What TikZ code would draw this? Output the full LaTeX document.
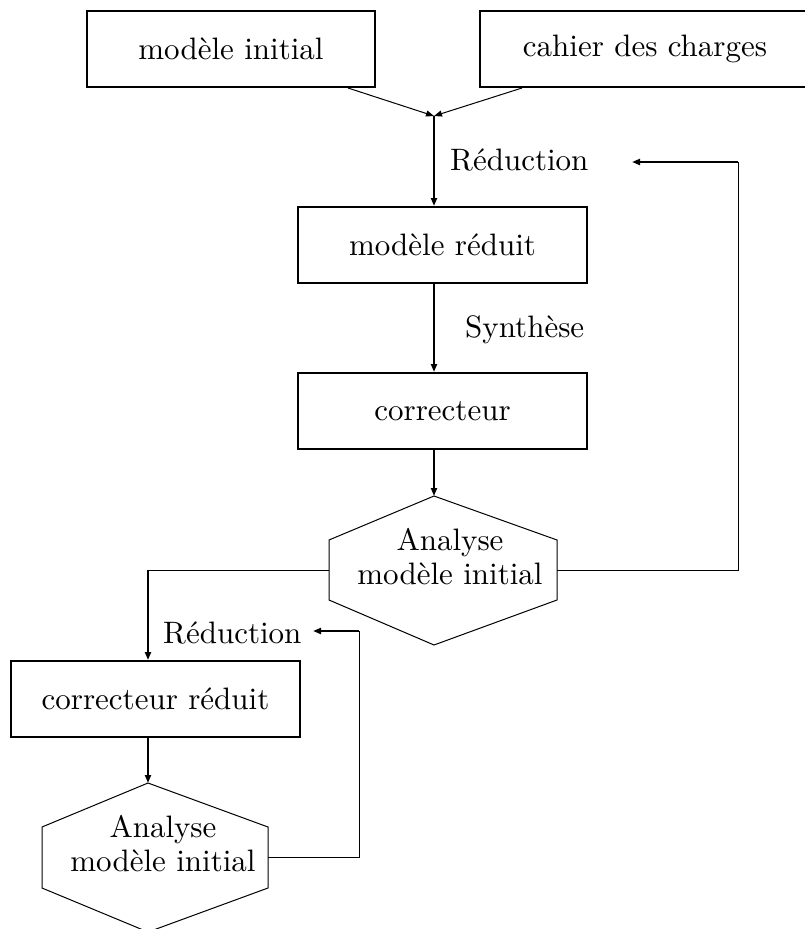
\documentclass[tikz,border=0pt]{standalone}
\usepackage{fontspec}
\setmainfont{lmroman10-regular.otf}
\usetikzlibrary{arrows.meta}

\tikzset{
  txt/.style={font=\fontsize{31}{34}\selectfont, inner sep=0pt},
  blockbox/.style={draw, line width=2pt, inner sep=0pt,
    font=\fontsize{31}{34}\selectfont},
  thinline/.style={line width=1pt},
  thickline/.style={line width=2pt},
  tip/.style={-{Triangle[length=8pt,width=6pt]}},
  hexline/.style={line width=1pt, line join=miter},
}

\begin{document}
\begin{tikzpicture}[x=1pt, y=-1pt]
  \useasboundingbox (0,0) rectangle (805,929);

  % input blocks
  \node[blockbox, minimum width=288pt, minimum height=76pt] (mi) at (231,49) {modèle initial};
  \node[blockbox, minimum width=330pt, minimum height=76pt] (cdc) at (645,49) {cahier des charges};

  % main chain
  \node[blockbox, minimum width=289pt, minimum height=76pt] (mr) at (442.5,245) {modèle réduit};
  \node[blockbox, minimum width=289pt, minimum height=76pt] (cor) at (442.5,411) {correcteur};
  \node[blockbox, minimum width=289pt, minimum height=76pt] (crr) at (155.5,699) {correcteur réduit};

  % first analysis hexagon
  \coordinate (h1t) at (434,496);
  \coordinate (h1nw) at (329,540);
  \coordinate (h1sw) at (329,600);
  \coordinate (h1b) at (434,645);
  \coordinate (h1se) at (557,600);
  \coordinate (h1ne) at (557,540);
  \coordinate (h1w) at (329,570);
  \coordinate (h1e) at (557,570);
  \draw[hexline] (h1t) -- (h1nw) -- (h1sw) -- (h1b) -- (h1se) -- (h1ne) -- cycle;
  \node[txt, anchor=base] (h1a) at (450,550) {Analyse};
  \node[txt, anchor=base] (h1m) at (450,584) {modèle initial};

  % second analysis hexagon
  \coordinate (h2t) at (148,783);
  \coordinate (h2nw) at (42,827);
  \coordinate (h2sw) at (42,888);
  \coordinate (h2b) at (148,932);
  \coordinate (h2se) at (268,888);
  \coordinate (h2ne) at (268,827);
  \coordinate (h2e) at (268,857);
  \draw[hexline] (h2t) -- (h2nw) -- (h2sw) -- (h2b) -- (h2se) -- (h2ne) -- cycle;
  \node[txt, anchor=base] (h2a) at (163,837) {Analyse};
  \node[txt, anchor=base] (h2m) at (163,871) {modèle initial};

  % edge labels
  \node[txt, anchor=base west] (red1) at (450,170) {Réduction};
  \node[txt, anchor=base west] (syn) at (465,337) {Synthèse};
  \node[txt, anchor=base west] (red2) at (163,643) {Réduction};

  % merging of the two inputs
  \coordinate (J) at (434,116);
  \draw[thinline, tip] ([xshift=-28pt]mi.south east) -- (J);
  \draw[thinline, tip] ([xshift=43pt]cdc.south west) -- (J);

  % downward flow
  \draw[thickline, tip] (J) -- (J |- mr.north);
  \draw[thickline, tip] (mr.south -| J) -- (cor.north -| J);
  \draw[thickline, tip] (cor.south -| J) -- (h1t);

  % loop back to the reduction step
  \coordinate (fb1) at (738,570);
  \coordinate (fb1top) at (738,162);
  \coordinate (fb1end) at (632,162);
  \draw[thinline] (h1e) -- (fb1) -- (fb1top);
  \draw[thickline, tip] (fb1top) -- (fb1end);

  % branch towards the reduced controller
  \coordinate (lb) at (148,570);
  \draw[thinline] (h1w) -- (lb);
  \draw[thickline, tip] (lb) -- (lb |- crr.north);
  \draw[thickline, tip] (crr.south -| lb) -- (h2t);

  % second loop back
  \coordinate (fb2) at (359,857);
  \coordinate (fb2top) at (359,631);
  \coordinate (fb2end) at (313,631);
  \draw[thinline] (h2e) -- (fb2) -- (fb2top);
  \draw[thickline, tip] (fb2top) -- (fb2end);
\end{tikzpicture}
\end{document}
